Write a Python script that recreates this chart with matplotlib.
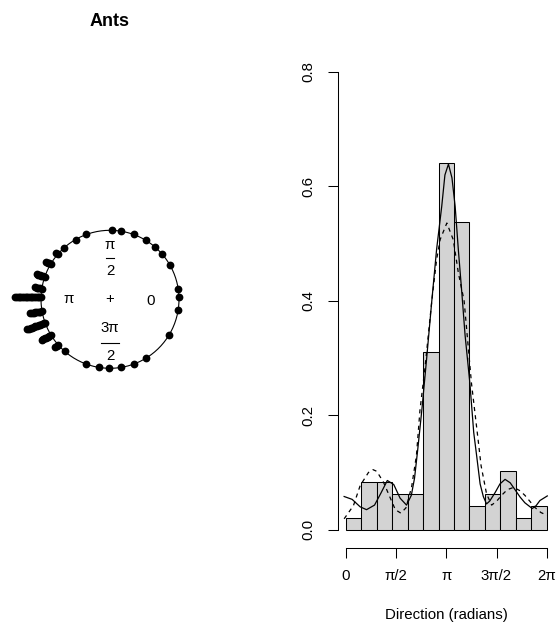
import numpy as np
import matplotlib
matplotlib.use("Agg")
import matplotlib.pyplot as plt

plt.rcParams["font.family"] = ["Liberation Sans", "DejaVu Sans"]
FS = 10.8

# ── Data ───────────────────────────────────────────────────────────────────
# circular stacked dot plot: bin direction (degrees) and number of stacked points
circ_angles = [1.7, 8.3, 30, 41, 49, 59, 70, 81, 88, 110, 120, 132, 139.5, 149.5,
               161, 171, 178.5, 190, 200, 211, 221, 229, 250, 261, 269, 279, 290,
               301, 329, 351]
circ_counts = [1, 1, 1, 1, 1, 1, 1, 1, 1, 1, 1, 1, 2, 4,
               6, 5, 16, 8, 12, 7, 3, 1, 1, 1, 1, 1, 1,
               1, 1, 1]

# histogram: 13 equal bins over [0, 2pi], counts out of 100
hist_counts = [1, 4, 4, 3, 3, 15, 31, 26, 2, 3, 5, 1, 2]

# density curves (x in radians, density)
solid_x = [-0.05, 0.2, 0.45, 0.65, 0.9, 1.1, 1.3, 1.5, 1.7, 1.9, 2.05, 2.15, 2.25,
           2.38, 2.53, 2.69, 2.84, 3.0, 3.1, 3.21, 3.32, 3.42, 3.52, 3.63, 3.73,
           3.88, 4.0, 4.09, 4.2, 4.3, 4.4, 4.5, 4.67, 4.82, 4.98, 5.14, 5.29,
           5.45, 5.6, 5.83, 5.95, 6.07, 6.3]
solid_y = [0.058, 0.053, 0.040, 0.035, 0.043, 0.064, 0.086, 0.079, 0.055, 0.043,
           0.060, 0.090, 0.140, 0.210, 0.300, 0.400, 0.490, 0.565, 0.620, 0.639,
           0.615, 0.565, 0.489, 0.413, 0.340, 0.256, 0.170, 0.130, 0.080, 0.058,
           0.045, 0.050, 0.065, 0.080, 0.088, 0.082, 0.070, 0.057, 0.047, 0.037,
           0.042, 0.051, 0.059]
dash_x = [-0.05, 0.24, 0.45, 0.71, 0.85, 0.97, 1.18, 1.38, 1.55, 1.72, 1.88, 1.96,
          2.06, 2.21, 2.32, 2.48, 2.69, 2.84, 2.95, 3.16, 3.36, 3.52, 3.7, 3.93,
          4.14, 4.23, 4.4, 4.56, 4.72, 4.87, 5.05, 5.25, 5.45, 5.6, 5.75, 5.91,
          6.1, 6.3]
dash_y = [0.019, 0.042, 0.077, 0.100, 0.105, 0.102, 0.083, 0.057, 0.035, 0.029,
          0.038, 0.054, 0.075, 0.130, 0.209, 0.285, 0.400, 0.472, 0.507, 0.536,
          0.507, 0.449, 0.400, 0.256, 0.156, 0.112, 0.063, 0.043, 0.050, 0.060,
          0.070, 0.074, 0.068, 0.060, 0.050, 0.039, 0.030, 0.025]

yticks = [0.0, 0.2, 0.4, 0.6, 0.8]
xticks = [0, np.pi / 2, np.pi, 3 * np.pi / 2, 2 * np.pi]
xtick_labels = ["0", "π/2", "π", "3π/2", "2π"]

W, H = 558, 627
fig = plt.figure(figsize=(W / 100, H / 100), dpi=100)

# ── Left: circular plot ────────────────────────────────────────────────────
cx, cy, R = 110, 299.3, 69.0
half = 110
axc = fig.add_axes([(cx - half) / W, 1 - (cy + half) / H, 2 * half / W, 2 * half / H])
axc.set_xlim(-half / R, half / R)
axc.set_ylim(-half / R, half / R)
axc.set_aspect("equal")
axc.axis("off")

t = np.linspace(0, 2 * np.pi, 400)
axc.plot(np.cos(t), np.sin(t), color="black", lw=0.8)

sep = 0.025
for ang, cnt in zip(circ_angles, circ_counts):
    a = np.deg2rad(ang)
    r = 1 + sep * np.arange(cnt)
    axc.plot(r * np.cos(a), r * np.sin(a), "o", color="black", ms=5.6, mec="black", mew=0)

def px(x, y):
    return (x - cx) / R, (cy - y) / R

axc.text(*px(110, 299.3), "+", ha="center", va="center", fontsize=FS)
axc.text(*px(68.5, 299.3), "π", ha="center", va="center", fontsize=FS)
axc.text(*px(151, 301), "0", ha="center", va="center", fontsize=FS)
# pi/2 at top
axc.text(*px(110, 245), "π", ha="center", va="center", fontsize=FS)
axc.plot(*zip(px(106, 258.3), px(114.5, 258.3)), color="black", lw=0.8)
axc.text(*px(110, 271), "2", ha="center", va="center", fontsize=FS)
# 3pi/2 at bottom
axc.text(*px(110, 328.5), "3π", ha="center", va="center", fontsize=FS)
axc.plot(*zip(px(101.5, 343.3), px(119, 343.3)), color="black", lw=0.8)
axc.text(*px(110, 356), "2", ha="center", va="center", fontsize=FS)

fig.text(110 / W, 1 - 22 / H, "Ants", ha="center", va="center",
         fontsize=FS * 1.2, fontweight="bold")

# ── Right: histogram with densities ────────────────────────────────────────
left, right, top, bottom = 337.7, 554.8, 53.7, 548.0
ax = fig.add_axes([left / W, 1 - bottom / H, (right - left) / W, (bottom - top) / H])
ax.set_xlim(-0.04 * 2 * np.pi, 2 * np.pi * 1.04)
ax.set_ylim(-0.032, 0.832)

edges = np.linspace(0, 2 * np.pi, len(hist_counts) + 1)
width = edges[1] - edges[0]
dens = np.array(hist_counts) / (sum(hist_counts) * width)
ax.bar(edges[:-1], dens, width=width, align="edge", color="#D3D3D3",
       edgecolor="black", linewidth=0.75)

ax.plot(solid_x, solid_y, color="black", lw=0.9)
ax.plot(dash_x, dash_y, color="black", lw=0.9, linestyle=(0, (3.3, 3.3)))

for s in ["top", "right"]:
    ax.spines[s].set_visible(False)
ax.spines["left"].set_bounds(0, 0.8)
ax.spines["bottom"].set_bounds(0, 2 * np.pi)
for s in ["left", "bottom"]:
    ax.spines[s].set_linewidth(0.75)

ax.set_yticks(yticks)
ax.set_yticklabels([f"{v:.1f}" for v in yticks], rotation=90, va="center")
ax.set_xticks(xticks)
ax.set_xticklabels(xtick_labels)
ax.tick_params(axis="both", length=7.2, width=0.75, labelsize=FS)
ax.tick_params(axis="y", pad=9)
ax.tick_params(axis="x", pad=8)

fig.text((left + right) / 2 / W, 1 - 615 / H, "Direction (radians)",
         ha="center", va="center", fontsize=FS)

fig.savefig("out.png", dpi=100)
